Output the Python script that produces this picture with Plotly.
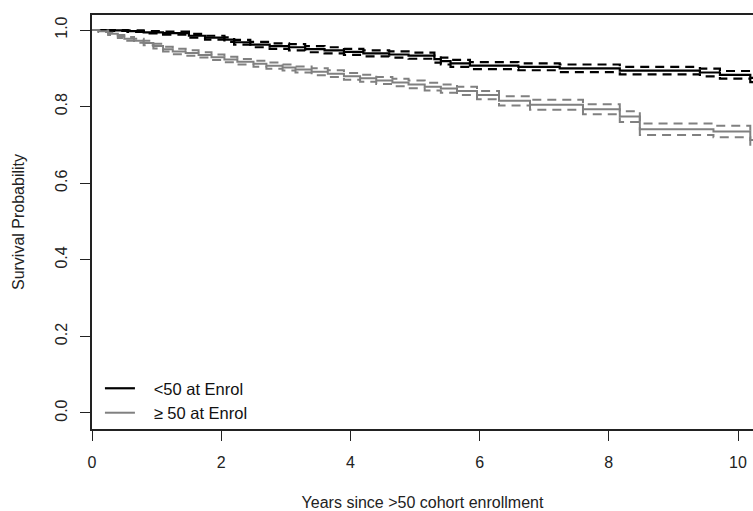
import plotly.graph_objects as go

# ---- data ----
t_young = [0, 0.25, 0.55, 0.8, 1.1, 1.5, 1.75, 2.05, 2.2, 2.45, 2.75, 3.05, 3.3, 3.6, 3.9, 4.2,
           4.6, 4.9, 5.3, 5.4, 5.55, 5.85, 6.6, 7.24, 8.17, 9.41, 9.72, 10.19, 10.3]
s_young = [1.0, 0.999, 0.997, 0.994, 0.992, 0.985, 0.980, 0.975, 0.968, 0.962, 0.958, 0.955, 0.950,
           0.947, 0.943, 0.939, 0.936, 0.933, 0.924, 0.919, 0.913, 0.907, 0.904, 0.900, 0.894,
           0.889, 0.883, 0.875, 0.875]
lo_young = [1.0, 0.998, 0.995, 0.991, 0.988, 0.980, 0.975, 0.969, 0.962, 0.955, 0.951, 0.947, 0.942,
            0.939, 0.935, 0.931, 0.928, 0.925, 0.915, 0.910, 0.904, 0.898, 0.895, 0.890, 0.884,
            0.879, 0.873, 0.864, 0.864]
hi_young = [1.0, 1.0, 0.999, 0.997, 0.996, 0.990, 0.985, 0.981, 0.974, 0.969, 0.965, 0.963, 0.958,
            0.955, 0.951, 0.947, 0.944, 0.941, 0.933, 0.928, 0.922, 0.916, 0.913, 0.910, 0.904,
            0.899, 0.893, 0.886, 0.886]

t_old = [0, 0.1, 0.25, 0.4, 0.5, 0.65, 0.8, 0.95, 1.1, 1.25, 1.45, 1.65, 1.85, 2.05, 2.25, 2.5,
         2.7, 2.95, 3.15, 3.4, 3.65, 3.9, 4.15, 4.4, 4.65, 4.9, 5.15, 5.4, 5.65, 5.96, 6.3,
         6.78, 7.6, 8.17, 8.48, 9.62, 10.19, 10.3]
s_old = [1.0, 0.997, 0.990, 0.983, 0.977, 0.972, 0.966, 0.958, 0.950, 0.944, 0.940, 0.935, 0.929,
         0.923, 0.917, 0.912, 0.907, 0.902, 0.897, 0.891, 0.886, 0.879, 0.874, 0.868, 0.863,
         0.858, 0.852, 0.847, 0.841, 0.830, 0.815, 0.805, 0.793, 0.774, 0.741, 0.735, 0.713, 0.713]
lo_old = [1.0, 0.995, 0.987, 0.979, 0.972, 0.967, 0.960, 0.952, 0.944, 0.937, 0.933, 0.928, 0.922,
          0.916, 0.910, 0.904, 0.899, 0.894, 0.889, 0.882, 0.877, 0.870, 0.865, 0.859, 0.853,
          0.848, 0.842, 0.836, 0.830, 0.819, 0.803, 0.792, 0.780, 0.760, 0.726, 0.720, 0.697, 0.697]
hi_old = [1.0, 0.999, 0.993, 0.987, 0.982, 0.977, 0.972, 0.964, 0.956, 0.951, 0.947, 0.942, 0.936,
          0.930, 0.924, 0.920, 0.915, 0.910, 0.905, 0.900, 0.895, 0.888, 0.883, 0.877, 0.873,
          0.868, 0.862, 0.858, 0.852, 0.841, 0.827, 0.818, 0.806, 0.788, 0.756, 0.750, 0.729, 0.729]

x_ticks = [0, 2, 4, 6, 8, 10]
y_ticks = [0.0, 0.2, 0.4, 0.6, 0.8, 1.0]
names = ["<50 at Enrol", "≥ 50 at Enrol"]

BLACK = "#000000"
GRAY = "#808080"
FONT = "Liberation Sans, Arial, sans-serif"

fig = go.Figure()

def add_group(t, s, lo, hi, color, width, name):
    for band in (lo, hi):
        fig.add_trace(go.Scatter(x=t, y=band, mode="lines", line_shape="hv",
                                 line=dict(color=color, width=width, dash="9px,6px"),
                                 showlegend=False, hoverinfo="skip"))
    fig.add_trace(go.Scatter(x=t, y=s, mode="lines", line_shape="hv",
                             line=dict(color=color, width=width),
                             name="\u00a0\u00a0\u00a0" + name))

add_group(t_young, s_young, lo_young, hi_young, BLACK, 2.2, names[0])
add_group(t_old, s_old, lo_old, hi_old, GRAY, 2.0, names[1])

axis_common = dict(showgrid=False, zeroline=False, showline=True, linecolor="#222",
                   linewidth=1.5, ticks="outside", ticklen=10, tickwidth=1.3, tickcolor="#222",
                   automargin=False,
                   tickfont=dict(family=FONT, size=16, color="#222"))

fig.update_layout(
    width=753, height=511,
    margin=dict(l=92, r=0, t=15, b=82),
    paper_bgcolor="white", plot_bgcolor="white",
    font=dict(family=FONT, size=16, color="#222"),
    xaxis=dict(range=[0, 10.232], tickvals=x_ticks, ticktext=[str(v) for v in x_ticks],
               mirror=True, ticklabelstandoff=8,
               title=dict(text="Years since >50 cohort enrollment",
                          font=dict(family=FONT, size=16, color="#222"), standoff=28),
               **axis_common),
    yaxis=dict(range=[-0.0418, 1.0392], tickvals=y_ticks, ticktext=[f"{v:.1f}" for v in y_ticks],
               tickangle=-90, ticklabelstandoff=7,
               title=dict(text="Survival Probability",
                          font=dict(family=FONT, size=16, color="#222"), standoff=24),
               **axis_common),
    legend=dict(x=0.012, y=0.14, xanchor="left", yanchor="top", bgcolor="rgba(0,0,0,0)",
                font=dict(family=FONT, size=16.5, color="#111"), tracegroupgap=0,
                itemwidth=30),
    showlegend=True,
)

fig.write_html("out.html", config={"displayModeBar": False},
               post_script="document.body.style.margin='0';document.body.style.padding='0';")
